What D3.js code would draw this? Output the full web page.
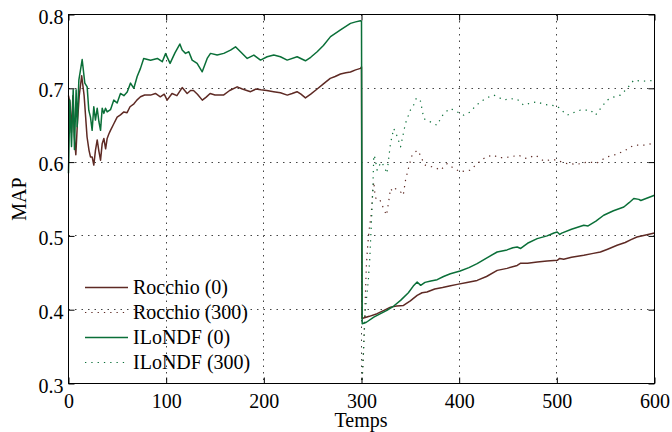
<!DOCTYPE html>
<html>
<head>
<meta charset="utf-8">
<script src="https://cdn.jsdelivr.net/npm/d3@7"></script>
<style>
  body { margin: 0; background: #fff; }
  svg { display: block; }
  text { font-family: "Liberation Serif", "Times New Roman", serif; fill: #000; }
</style>
</head>
<body>
<svg id="chart" width="672" height="432"></svg>
<script>
// ---- data ----
const xTicks = [0, 100, 200, 300, 400, 500, 600];
const yTicks = [0.3, 0.4, 0.5, 0.6, 0.7, 0.8];
const seriesNames = ["Rocchio (0)", "Rocchio (300)", "ILoNDF (0)", "ILoNDF (300)"];

const rocchio0X = [0, 1.5, 3, 4.5, 6, 7.5, 9, 11, 13.5, 16, 19, 21, 22.5, 24.2, 25.9, 27.6, 29.4, 31.1, 32.8, 34.5, 36.2, 38, 39.6, 41.3, 43, 46.4, 49.8, 53.2, 56.7, 60, 63, 67, 70, 73.7, 78, 84, 89, 94, 98, 101, 106, 111, 116.4, 121.5, 125, 128, 132, 137, 141, 145, 150, 155, 159, 165, 172.7, 178, 186.4, 192, 197, 203, 210, 217, 224, 229, 234, 238, 242.6, 248, 254.6, 261, 268, 273, 278.5, 284, 288.7, 294, 299, 300,
  300.5, 308, 316, 323, 329.7, 336, 343, 350, 357, 362, 367, 375, 383, 390, 398, 408, 418.4, 428, 439, 449, 459.4, 463, 470, 480, 490, 500.4, 503, 507, 515, 527.6, 536, 544.6, 552, 561.7, 570, 576, 582, 590, 600];
const rocchio0Y = [0.69, 0.68, 0.64, 0.69, 0.635, 0.61, 0.65, 0.69, 0.717, 0.69, 0.634, 0.616, 0.607, 0.607, 0.596, 0.616, 0.630, 0.615, 0.6026, 0.625, 0.632, 0.618, 0.632, 0.638, 0.643, 0.652, 0.661, 0.664, 0.668, 0.667, 0.675, 0.679, 0.684, 0.6885, 0.691, 0.6908, 0.693, 0.6885, 0.692, 0.684, 0.693, 0.690, 0.701, 0.693, 0.697, 0.697, 0.692, 0.684, 0.688, 0.693, 0.691, 0.691, 0.691, 0.697, 0.702, 0.699, 0.6954, 0.699, 0.698, 0.697, 0.6954, 0.694, 0.6908, 0.693, 0.6954, 0.692, 0.687, 0.692, 0.699, 0.706, 0.7134, 0.716, 0.7193, 0.721, 0.722, 0.725, 0.727, 0.729,
  0.388, 0.391, 0.3946, 0.399, 0.4035, 0.405, 0.4058, 0.412, 0.4194, 0.423, 0.4239, 0.428, 0.430, 0.432, 0.4343, 0.437, 0.4397, 0.445, 0.4533, 0.456, 0.46, 0.463, 0.463, 0.4646, 0.466, 0.4669, 0.4695, 0.4685, 0.471, 0.4737, 0.476, 0.4782, 0.482, 0.4873, 0.491, 0.495, 0.4985, 0.501, 0.504];

const rocchio300X = [300.7, 302, 303.5, 305, 306.5, 308, 310, 311.5, 312.6, 314, 316, 319, 322.6, 325.6, 327.8, 329.7, 332, 334.8, 337, 340, 342.7, 345, 348.4, 351.8, 354, 357, 360.6, 363.8, 365.5, 370, 374, 380.9, 387.7, 394, 401.4, 406, 411.6, 418.4, 425.2, 430, 435.5, 440, 445.7, 452, 461, 465, 469.6, 478, 486.6, 493, 500.4, 505, 510.6, 520.8, 531, 541.3, 546, 551.5, 561.7, 570.3, 578.8, 589, 594, 600];
const rocchio300Y = [0.305, 0.34, 0.40, 0.46, 0.49, 0.51, 0.53, 0.56, 0.5732, 0.553, 0.548, 0.5483, 0.537, 0.528, 0.546, 0.564, 0.56, 0.564, 0.562, 0.5597, 0.555, 0.575, 0.5935, 0.6094, 0.612, 0.616, 0.609, 0.598, 0.5958, 0.594, 0.5935, 0.589, 0.598, 0.592, 0.5867, 0.588, 0.589, 0.598, 0.6049, 0.608, 0.6094, 0.606, 0.606, 0.607, 0.6094, 0.606, 0.6049, 0.6094, 0.6016, 0.603, 0.603, 0.600, 0.598, 0.597, 0.6, 0.599, 0.603, 0.607, 0.6107, 0.6161, 0.6229, 0.623, 0.624, 0.626];

const ilondf0X = [0, 1.4, 3.1, 4.8, 6.1, 7.8, 8.9, 10.6, 12.3, 14, 16.7, 19.1, 20.8, 22.5, 24.2, 25.9, 27.6, 29.4, 31.1, 32.8, 34.5, 36.2, 37.9, 39.6, 43, 46.4, 49.8, 53.2, 56.7, 60.1, 63.5, 66.9, 70.3, 73.7, 77, 84, 91, 96, 99.4, 104, 109, 114, 116.4, 119.8, 123.2, 126.6, 131.7, 136.9, 142, 145.4, 152.2, 159, 165.9, 171, 176.1, 183, 189.8, 196.6, 203.4, 210.2, 217, 223.9, 234.1, 242.6, 248, 254.6, 261, 268.3, 278.5, 288.7, 294, 299, 300,
  300.7, 305, 312.6, 320, 326, 333, 340, 348, 353, 357, 360.6, 365, 371, 377.5, 384, 391, 401, 410, 418.4, 428, 438.9, 449, 455, 459.4, 463, 470, 479.9, 490, 497, 500.4, 503, 505, 515, 527.6, 532, 540, 548, 558, 568.6, 574, 578.8, 584, 586, 592, 600];
const ilondf0Y = [0.585, 0.684, 0.621, 0.698, 0.617, 0.698, 0.648, 0.711, 0.725, 0.739, 0.707, 0.702, 0.670, 0.661, 0.643, 0.675, 0.657, 0.673, 0.655, 0.643, 0.673, 0.666, 0.673, 0.668, 0.671, 0.684, 0.680, 0.693, 0.690, 0.695, 0.707, 0.700, 0.716, 0.727, 0.7405, 0.738, 0.7405, 0.736, 0.747, 0.7338, 0.748, 0.76, 0.7518, 0.7473, 0.7495, 0.7382, 0.7337, 0.7224, 0.7405, 0.7473, 0.745, 0.7473, 0.7518, 0.7563, 0.7495, 0.7405, 0.745, 0.7382, 0.7427, 0.745, 0.7427, 0.7382, 0.7427, 0.7373, 0.742, 0.7495, 0.758, 0.770, 0.779, 0.788, 0.790, 0.7916, 0.791,
  0.381, 0.383, 0.39, 0.395, 0.399, 0.405, 0.4126, 0.423, 0.432, 0.4375, 0.433, 0.437, 0.439, 0.4407, 0.445, 0.4488, 0.4524, 0.457, 0.4624, 0.470, 0.4782, 0.481, 0.484, 0.485, 0.483, 0.49, 0.4963, 0.5, 0.504, 0.5053, 0.502, 0.5037, 0.509, 0.5144, 0.5135, 0.52, 0.528, 0.534, 0.5392, 0.545, 0.5506, 0.5495, 0.548, 0.551, 0.555];

const ilondf300X = [300.7, 301.5, 302.5, 304, 305.5, 307, 308.5, 310.4, 311.5, 312.6, 314, 316, 320, 323, 326, 329.7, 333, 336.5, 340, 345, 350, 353, 356.3, 360.4, 363.8, 367, 370.6, 374, 377.5, 381, 384.3, 391, 398, 404.7, 411.6, 416, 421.8, 428, 435.5, 440, 445.7, 452, 459.4, 466, 473, 480, 487, 493.5, 500.4, 505, 510.6, 517, 524.2, 534.5, 539.6, 545, 551.5, 558, 565.2, 572, 578.8, 585, 589, 594, 600];
const ilondf300Y = [0.305, 0.33, 0.36, 0.40, 0.42, 0.44, 0.47, 0.5257, 0.56, 0.6094, 0.605, 0.589, 0.60, 0.595, 0.5845, 0.6252, 0.6456, 0.635, 0.6206, 0.6524, 0.6704, 0.676, 0.6871, 0.6826, 0.6592, 0.656, 0.6545, 0.652, 0.65, 0.659, 0.666, 0.6727, 0.668, 0.6636, 0.668, 0.675, 0.6817, 0.687, 0.6908, 0.688, 0.684, 0.686, 0.6853, 0.6772, 0.680, 0.6817, 0.678, 0.6772, 0.6759, 0.670, 0.6636, 0.667, 0.6704, 0.6704, 0.6636, 0.673, 0.684, 0.688, 0.6908, 0.6998, 0.7111, 0.710, 0.7098, 0.710, 0.711];

// ---- layout ----
const W = 672, H = 432;
const m = { left: 68, right: 18, top: 14, bottom: 49 };
const iw = W - m.left - m.right, ih = H - m.top - m.bottom;
const brown = "#5e2a24", green = "#0a6f38";

const svg = d3.select("#chart");
const g = svg.append("g").attr("transform", `translate(${m.left + 0.5},${m.top + 0.5})`);

const x = d3.scaleLinear().domain([0, 600]).range([0, iw]);
const y = d3.scaleLinear().domain([0.3, 0.8]).range([ih, 0]);

// grid
g.append("g").selectAll("line").data(xTicks.slice(1, -1)).join("line")
  .attr("x1", d => Math.round(x(d))).attr("x2", d => Math.round(x(d)))
  .attr("y1", 0).attr("y2", ih)
  .attr("stroke", "#444").attr("stroke-width", 1).attr("stroke-dasharray", "1.5,5");
g.append("g").selectAll("line").data(yTicks.slice(1, -1)).join("line")
  .attr("y1", d => Math.round(y(d))).attr("y2", d => Math.round(y(d)))
  .attr("x1", 0).attr("x2", iw)
  .attr("stroke", "#444").attr("stroke-width", 1).attr("stroke-dasharray", "1.5,5");

// series
const line = d3.line().x(d => x(d[0])).y(d => y(d[1]));
const series = [
  { name: seriesNames[0], xs: rocchio0X, ys: rocchio0Y, color: brown, dash: null },
  { name: seriesNames[1], xs: rocchio300X, ys: rocchio300Y, color: brown, dash: "1.3,5" },
  { name: seriesNames[2], xs: ilondf0X, ys: ilondf0Y, color: green, dash: null },
  { name: seriesNames[3], xs: ilondf300X, ys: ilondf300Y, color: green, dash: "1.3,5" }
];
const drawOrder = [1, 3, 0, 2];
drawOrder.forEach(i => {
  const s = series[i];
  g.append("path")
    .datum(d3.zip(s.xs, s.ys))
    .attr("d", line)
    .attr("fill", "none")
    .attr("stroke", s.color)
    .attr("stroke-width", s.dash ? 1.2 : 1.5)
    .attr("stroke-linejoin", "round")
    .attr("stroke-dasharray", s.dash);
});

// axes (inward ticks on all four sides)
const fs = 20;
g.append("g").attr("transform", `translate(0,${ih})`)
  .call(d3.axisBottom(x).tickValues(xTicks).tickSizeInner(-6).tickSizeOuter(0).tickPadding(10).tickFormat(d3.format("d")));
g.append("g")
  .call(d3.axisLeft(y).tickValues(yTicks).tickSizeInner(-6).tickSizeOuter(0).tickPadding(5).tickFormat(d3.format(".1f")))
  .selectAll(".tick text").attr("dy", "0.43em");
g.append("g")
  .call(d3.axisTop(x).tickValues(xTicks).tickSizeInner(-6).tickSizeOuter(0).tickFormat(""));
g.append("g").attr("transform", `translate(${iw},0)`)
  .call(d3.axisRight(y).tickValues(yTicks).tickSizeInner(-6).tickSizeOuter(0).tickFormat(""));
g.selectAll(".domain").remove();
g.selectAll(".tick line").attr("stroke", "#000");
g.selectAll(".tick text").attr("font-size", fs).attr("font-family", "Liberation Serif");

g.append("rect").attr("x", 0).attr("y", 0).attr("width", iw).attr("height", ih)
  .attr("fill", "none").attr("stroke", "#000").attr("stroke-width", 1);

// axis titles
svg.append("text").attr("x", 361).attr("y", 427)
  .attr("text-anchor", "middle").attr("font-size", fs).text("Temps");
svg.append("text").attr("transform", `translate(26,199) rotate(-90)`)
  .attr("text-anchor", "middle").attr("font-size", fs).text("MAP");

// legend
const leg = svg.append("g");
series.forEach((s, i) => {
  const cy = 287 + i * 25;
  leg.append("line").attr("x1", 85).attr("x2", 128).attr("y1", cy + 0.5).attr("y2", cy + 0.5)
    .attr("stroke", s.color).attr("stroke-width", s.dash ? 1.2 : 1.5).attr("stroke-dasharray", s.dash);
  leg.append("text").attr("x", 133).attr("y", cy + 7).attr("font-size", fs).text(s.name);
});
</script>
</body>
</html>
